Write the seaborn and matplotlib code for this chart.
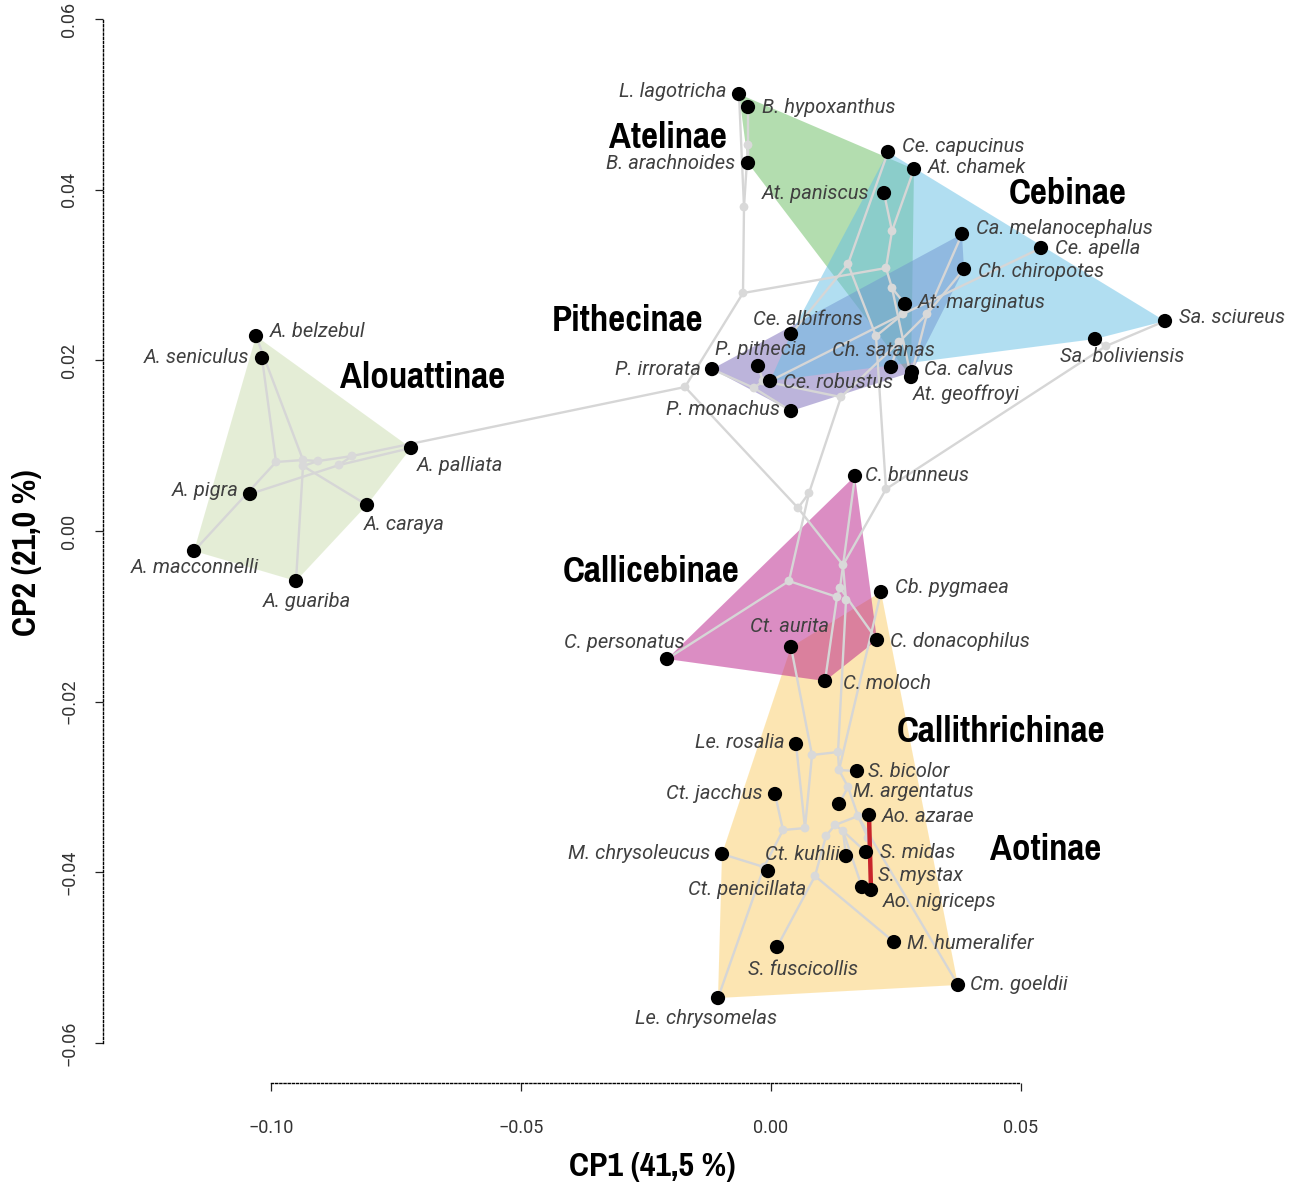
import numpy as np
import pandas as pd
import matplotlib
matplotlib.use("Agg")
import matplotlib.pyplot as plt
from matplotlib import font_manager as fm
from matplotlib.font_manager import FontProperties
from matplotlib.ticker import FixedLocator, FuncFormatter
import seaborn as sns

# ---------------------------------------------------------------------------
# Species scores on the first two principal components (CP1, CP2)
# ---------------------------------------------------------------------------
alouattinae_names = ["A. belzebul", "A. seniculus", "A. palliata", "A. pigra",
                     "A. caraya", "A. macconnelli", "A. guariba"]
alouattinae_cp1 = [-0.1030, -0.1018, -0.0720, -0.1042, -0.0808, -0.1154, -0.0950]
alouattinae_cp2 = [0.02285, 0.02027, 0.00973, 0.00434, 0.00305, -0.00234, -0.00586]

atelinae_names = ["L. lagotricha", "B. hypoxanthus", "B. arachnoides", "At. paniscus",
                  "At. chamek", "At. marginatus", "At. geoffroyi"]
atelinae_cp1 = [-0.0064, -0.0046, -0.0046, 0.0226, 0.0286, 0.0268, 0.0280]
atelinae_cp2 = [0.05121, 0.04969, 0.04313, 0.03961, 0.04242, 0.02660, 0.01805]

cebinae_names = ["Ce. capucinus", "Ce. apella", "Sa. sciureus", "Sa. boliviensis",
                 "Ce. albifrons", "Ce. robustus"]
cebinae_cp1 = [0.0234, 0.0540, 0.0788, 0.0648, 0.0040, -0.0002]
cebinae_cp2 = [0.04442, 0.03317, 0.02461, 0.02250, 0.02309, 0.01758]

pithecinae_names = ["P. irrorata", "P. pithecia", "P. monachus", "Ch. satanas",
                    "Ca. calvus", "Ca. melanocephalus", "Ch. chiropotes"]
pithecinae_cp1 = [-0.0118, -0.0026, 0.0040, 0.0240, 0.0282, 0.0382, 0.0386]
pithecinae_cp2 = [0.01898, 0.01934, 0.01406, 0.01922, 0.01863, 0.03481, 0.03070]

callicebinae_names = ["C. brunneus", "C. personatus", "C. donacophilus", "C. moloch"]
callicebinae_cp1 = [0.0168, -0.0208, 0.0212, 0.0108]
callicebinae_cp2 = [0.00645, -0.01500, -0.01277, -0.01758]

callithrichinae_names = ["Cb. pygmaea", "Ct. aurita", "Le. rosalia", "S. bicolor",
                         "Ct. jacchus", "M. argentatus", "M. chrysoleucus", "Ct. kuhlii",
                         "S. midas", "Ct. penicillata", "S. mystax", "M. humeralifer",
                         "S. fuscicollis", "Le. chrysomelas", "Cm. goeldii"]
callithrichinae_cp1 = [0.0220, 0.0040, 0.0050, 0.0172, 0.0008, 0.0136, -0.0098, 0.0150,
                       0.0190, -0.0006, 0.0182, 0.0246, 0.0012, -0.0106, 0.0374]
callithrichinae_cp2 = [-0.00715, -0.01359, -0.02496, -0.02813, -0.03082, -0.03199,
                       -0.03785, -0.03809, -0.03762, -0.03985, -0.04172, -0.04817,
                       -0.04875, -0.05473, -0.05320]

aotinae_names = ["Ao. azarae", "Ao. nigriceps"]
aotinae_cp1 = [0.0196, 0.0200]
aotinae_cp2 = [-0.03328, -0.04207]

# Reconstructed ancestral states (internal nodes of the phylogeny)
node_names = ["R1", "R0", "A0", "A1", "Apl", "A2", "A4", "A3",
              "Atl", "Atl1", "Bra", "Ate0", "Ate1", "Ate2",
              "P0", "Pit0", "Pit1", "Pit2", "Pit3", "PC",
              "Ceb0", "Sai", "Ceb1", "Ceb2", "Sap",
              "Cb0", "Cb1", "Cb2", "C0", "CA",
              "Call", "Leo0", "Leo1", "Cx0", "Cx1", "Cal2", "Cal3", "Cal4",
              "Aot", "Cal5", "Cal6", "Cal7", "Mic"]
node_cp1 = [0.0054, -0.0172, -0.0838, -0.0906, -0.0864, -0.0936, -0.0990, -0.0936,
            -0.0056, -0.0054, -0.0046, 0.0230, 0.0242, 0.0242,
            0.0076, 0.0140, -0.0016, -0.0034, 0.0256, 0.0312,
            0.0230, 0.0670, 0.0210, 0.0154, 0.0264,
            0.0036, 0.0132, 0.0138, 0.0144, 0.0150,
            0.0134, 0.0082, 0.0068, 0.0024, -0.0014, 0.0136, 0.0154, 0.0174,
            0.0194, 0.0128, 0.0144, 0.0110, 0.0088]
node_cp2 = [0.00270, 0.01688, 0.00879, 0.00820, 0.00773, 0.00832, 0.00809, 0.00762,
            0.02789, 0.03797, 0.04524, 0.03082, 0.03516, 0.02848,
            0.00445, 0.01570, 0.01758, 0.01676, 0.02215, 0.02543,
            0.00492, 0.02168, 0.02285, 0.03129, 0.02543,
            -0.00586, -0.00773, -0.00668, -0.00398, -0.00809,
            -0.02590, -0.02625, -0.03481, -0.03504, -0.03938, -0.02801, -0.03000,
            -0.03340, -0.03598, -0.03445, -0.03516, -0.03574, -0.04043]

# Branches of the tree (parent -> child)
edge_parent = ["R1", "R0", "R0", "R1", "R1",
               "A0", "A0", "Apl", "Apl", "A1", "A1", "A2", "A2", "A4", "A4", "A3", "A3",
               "Atl", "Atl", "Atl1", "Atl1", "Bra", "Bra", "Ate0", "Ate0", "Ate1", "Ate1",
               "Ate2", "Ate2",
               "P0", "P0", "Pit0", "Pit0", "Pit1", "Pit1", "Pit2", "Pit2", "Pit3", "Pit3",
               "PC", "PC", "PC",
               "Cb0", "Cb0", "Cb1", "Cb1", "Cb2", "Cb2",
               "C0", "C0", "Ceb0", "Ceb0", "Sai", "Sai", "Ceb1", "Ceb1", "Ceb2", "Ceb2",
               "Sap", "Sap",
               "CA", "Call", "Call", "Leo0", "Leo0", "Leo1", "Leo1", "Cx0", "Cx0",
               "Cx1", "Cx1", "Cx1", "Cal2", "Cal2", "Cal2", "Cal3", "Cal3",
               "Cal4", "Cal4", "Cal4", "Aot", "Aot", "Cal5", "Cal5",
               "Cal6", "Cal6", "Cal6", "Cal7", "Mic", "Mic"]
edge_child = ["R0", "A0", "Atl", "P0", "C0",
              "A1", "Apl", "A. pigra", "A. palliata", "A2", "A3", "A. belzebul", "A4",
              "A. seniculus", "A. macconnelli", "A. guariba", "A. caraya",
              "Atl1", "Ate0", "L. lagotricha", "Bra", "B. hypoxanthus", "B. arachnoides",
              "Ate1", "Ate2", "At. paniscus", "At. chamek", "At. marginatus", "At. geoffroyi",
              "Pit0", "Cb0", "Pit1", "Pit3", "P. pithecia", "Pit2", "P. irrorata",
              "P. monachus", "Ch. satanas", "PC",
              "Ch. chiropotes", "Ca. melanocephalus", "Ca. calvus",
              "C. personatus", "Cb1", "C. moloch", "Cb2", "C. brunneus", "C. donacophilus",
              "Ceb0", "CA", "Sai", "Ceb1", "Sa. sciureus", "Sa. boliviensis", "Ceb2", "Sap",
              "Ce. capucinus", "Ce. albifrons", "Ce. apella", "Ce. robustus",
              "Call", "Leo0", "Cal2", "Ct. aurita", "Leo1", "Le. rosalia", "Cx0",
              "Ct. jacchus", "Cx1", "Ct. penicillata", "Le. chrysomelas", "M. chrysoleucus",
              "S. bicolor", "Cal3", "Cb. pygmaea", "M. argentatus", "Cal4",
              "Aot", "Cal5", "Cm. goeldii", "Ao. azarae", "Ao. nigriceps", "Cal6", "Cal7",
              "S. midas", "S. mystax", "Ct. kuhlii", "Mic", "M. humeralifer", "S. fuscicollis"]

# ---------------------------------------------------------------------------
# Assemble tables (hull drawing order: later groups are painted on top)
# ---------------------------------------------------------------------------
groups = [
    ("Alouattinae", alouattinae_names, alouattinae_cp1, alouattinae_cp2),
    ("Atelinae", atelinae_names, atelinae_cp1, atelinae_cp2),
    ("Pithecinae", pithecinae_names, pithecinae_cp1, pithecinae_cp2),
    ("Cebinae", cebinae_names, cebinae_cp1, cebinae_cp2),
    ("Callithrichinae", callithrichinae_names, callithrichinae_cp1, callithrichinae_cp2),
    ("Callicebinae", callicebinae_names, callicebinae_cp1, callicebinae_cp2),
    ("Aotinae", aotinae_names, aotinae_cp1, aotinae_cp2),
]
tips = pd.concat(
    [pd.DataFrame({"species": n, "CP1": x, "CP2": y, "subfamily": g}) for g, n, x, y in groups],
    ignore_index=True)
nodes = pd.DataFrame({"node": node_names, "CP1": node_cp1, "CP2": node_cp2})

pos = {r.species: (r.CP1, r.CP2) for r in tips.itertuples()}
pos.update({r.node: (r.CP1, r.CP2) for r in nodes.itertuples()})

# Styling
hull_colors = {
    "Alouattinae": ("#cbddaf", 0.5),
    "Atelinae": ("#69bd61", 0.5),
    "Cebinae": ("#65bfe5", 0.5),
    "Pithecinae": ("#7b6bb9", 0.5),
    "Callithrichinae": ("#fbcd67", 0.5),
    "Callicebinae": ("#b91d89", 0.5),
}
aotinae_color = "#c8242b"
label_color = "#404040"

group_label_pos = {
    "Atelinae": (-0.0206, 0.04617),
    "Cebinae": (0.0594, 0.03961),
    "Pithecinae": (-0.0286, 0.02473),
    "Alouattinae": (-0.0696, 0.01805),
    "Callicebinae": (-0.0240, -0.00469),
    "Callithrichinae": (0.0460, -0.02344),
    "Aotinae": (0.0550, -0.03738),
}

# (alignment, dx px, dy px) for each species label
label_layout = {
    "L. lagotricha": ("right", -12, 3), "B. hypoxanthus": ("left", 14, 0),
    "B. arachnoides": ("right", -13, -1), "At. paniscus": ("right", -15, 0),
    "Ce. capucinus": ("left", 14, 5), "At. chamek": ("left", 14, 2),
    "Ca. melanocephalus": ("left", 14, 5), "Ce. apella": ("left", 14, -1),
    "Ch. chiropotes": ("left", 14, -2), "At. marginatus": ("left", 13, 2),
    "Sa. sciureus": ("left", 14, 4), "Sa. boliviensis": ("center", 27, -17),
    "Ce. albifrons": ("center", 17, 14), "P. pithecia": ("center", 3, 16),
    "Ch. satanas": ("center", -8, 17), "P. irrorata": ("right", -11, 0),
    "Ce. robustus": ("left", 13, -1), "Ca. calvus": ("left", 12, 3),
    "At. geoffroyi": ("left", 2, -17), "P. monachus": ("right", -11, 2),
    "A. belzebul": ("left", 14, 5), "A. seniculus": ("right", -13, 1),
    "A. palliata": ("left", 6, -18), "A. pigra": ("right", -11, 3),
    "A. caraya": ("left", -3, -20), "A. macconnelli": ("center", 1, -17),
    "A. guariba": ("center", 11, -20), "C. brunneus": ("left", 10, 0),
    "C. personatus": ("right", 18, 17), "C. donacophilus": ("left", 13, -2),
    "C. moloch": ("left", 18, -2), "Cb. pygmaea": ("left", 14, 5),
    "Ct. aurita": ("center", -1, 20), "Le. rosalia": ("right", -11, 2),
    "S. bicolor": ("left", 11, 0), "Ct. jacchus": ("right", -12, 1),
    "M. argentatus": ("left", 14, 12), "Ao. azarae": ("left", 13, -1),
    "M. chrysoleucus": ("right", -12, 0), "Ct. kuhlii": ("right", -6, 2),
    "S. midas": ("left", 14, 0), "S. mystax": ("left", 16, 12),
    "Ct. penicillata": ("center", -21, -18), "Ao. nigriceps": ("left", 12, -11),
    "M. humeralifer": ("left", 13, -1), "S. fuscicollis": ("center", 26, -22),
    "Cm. goeldii": ("left", 12, 0), "Le. chrysomelas": ("center", -12, -20),
}


def convex_hull(points):
    """Andrew's monotone chain; returns hull vertices counter-clockwise."""
    pts = sorted(set(points))
    if len(pts) <= 2:
        return pts

    def cross(o, a, b):
        return (a[0] - o[0]) * (b[1] - o[1]) - (a[1] - o[1]) * (b[0] - o[0])

    lower, upper = [], []
    for p in pts:
        while len(lower) >= 2 and cross(lower[-2], lower[-1], p) <= 0:
            lower.pop()
        lower.append(p)
    for p in reversed(pts):
        while len(upper) >= 2 and cross(upper[-2], upper[-1], p) <= 0:
            upper.pop()
        upper.append(p)
    return lower[:-1] + upper[:-1]


def _weight(w):
    names = {"bold": 700, "heavy": 800, "black": 900, "semibold": 600, "demibold": 600}
    if isinstance(w, str):
        return names.get(w.lower(), 400)
    return int(w)


def condensed_bold_face():
    """Return a narrow/condensed bold face if one is installed."""
    best = None
    for f in fm.fontManager.ttflist:
        narrow = ("Narrow" in f.name or "Condensed" in f.name
                  or str(f.stretch) in ("condensed", "semi-condensed", "extra-condensed"))
        if narrow and _weight(f.weight) >= 700 and f.style == "normal":
            if best is None or "Narrow" in f.name:
                best = f.fname
    return best


sns.set_theme(style="white")
plt.rcParams["font.family"] = ["Roboto", "DejaVu Sans"]
plt.rcParams["axes.unicode_minus"] = True

cond_path = condensed_bold_face()
if cond_path:
    group_font = FontProperties(fname=cond_path, size=29)
    title_font = FontProperties(fname=cond_path, size=26.5)
else:
    group_font = FontProperties(family="DejaVu Sans", weight="bold", size=22)
    title_font = FontProperties(family="DejaVu Sans", weight="bold", size=20)

# ---------------------------------------------------------------------------
# Figure
# ---------------------------------------------------------------------------
fig = plt.figure(figsize=(13.05, 11.96), dpi=100)
ax = fig.add_axes([110 / 1305, 121 / 1196, 1190 / 1305, 1065 / 1196])
ax.set_xlim(-0.1322, 0.1058)
ax.set_ylim(-0.06375, 0.06106)

# convex hulls of each subfamily
for g, n, x, y in groups:
    if g == "Aotinae":
        continue
    hull = convex_hull(list(zip(x, y)))
    hx, hy = zip(*hull)
    col, a = hull_colors[g]
    ax.fill(hx, hy, color=col, alpha=a, lw=0, zorder=1)

# branches of the phylomorphospace
for p, c in zip(edge_parent, edge_child):
    (x0, y0), (x1, y1) = pos[p], pos[c]
    ax.plot([x0, x1], [y0, y1], color="#d6d6d6", lw=1.7, solid_capstyle="round", zorder=2)

# internal nodes
sns.scatterplot(data=nodes, x="CP1", y="CP2", ax=ax, color="#d9d9d9", s=40,
                edgecolor="none", zorder=3, legend=False)

# Aotinae span (two species only)
ax.plot(aotinae_cp1, aotinae_cp2, color=aotinae_color, lw=3.2, zorder=4,
        solid_capstyle="butt")

# species
sns.scatterplot(data=tips, x="CP1", y="CP2", ax=ax, color="black", s=105,
                edgecolor="none", zorder=5, legend=False)

for name, (ha, dx, dy) in label_layout.items():
    ax.annotate(name, pos[name], xytext=(dx, dy), textcoords="offset pixels",
                ha=ha, va="center", fontsize=14.5, fontstyle="italic",
                fontweight="normal", family=["Roboto", "DejaVu Sans"],
                color=label_color, zorder=6)

for g, (gx, gy) in group_label_pos.items():
    ax.text(gx, gy, g, ha="center", va="center", fontproperties=group_font,
            color="black", zorder=7)

# axes in R style: dotted, detached, spanning the tick range
for side in ("top", "right"):
    ax.spines[side].set_visible(False)
ax.spines["left"].set_position(("outward", 5))
ax.spines["bottom"].set_position(("outward", 6))
ax.spines["left"].set_bounds(-0.06, 0.06)
ax.spines["bottom"].set_bounds(-0.10, 0.05)
for side in ("left", "bottom"):
    ax.spines[side].set_linestyle((0, (1.5, 1.5)))
    ax.spines[side].set_linewidth(1.0)
    ax.spines[side].set_color("black")

xticks = [-0.10, -0.05, 0.00, 0.05]
yticks = [-0.06, -0.04, -0.02, 0.00, 0.02, 0.04, 0.06]
fmt = FuncFormatter(lambda v, _: f"{v:.2f}".replace("-", "\u2212"))
ax.xaxis.set_major_locator(FixedLocator(xticks))
ax.yaxis.set_major_locator(FixedLocator(yticks))
ax.xaxis.set_major_formatter(fmt)
ax.yaxis.set_major_formatter(fmt)
ax.tick_params(axis="both", which="major", direction="out", length=6, width=0.9,
               color="#222222", labelcolor="#333333", labelsize=13)
ax.tick_params(axis="x", pad=20, bottom=True)
ax.tick_params(axis="y", pad=12, left=True)
for lab in ax.get_yticklabels():
    lab.set_rotation(90)
    lab.set_va("center")

ax.set_xlabel("CP1 (41,5 %)", fontproperties=title_font, color="black")
ax.set_ylabel("CP2 (21,0 %)", fontproperties=title_font, color="black")
ax.xaxis.set_label_coords(0.4555, -0.072)
ax.yaxis.set_label_coords(-0.057, 0.490)
ax.grid(False)

fig.savefig("out.png", dpi=100)
